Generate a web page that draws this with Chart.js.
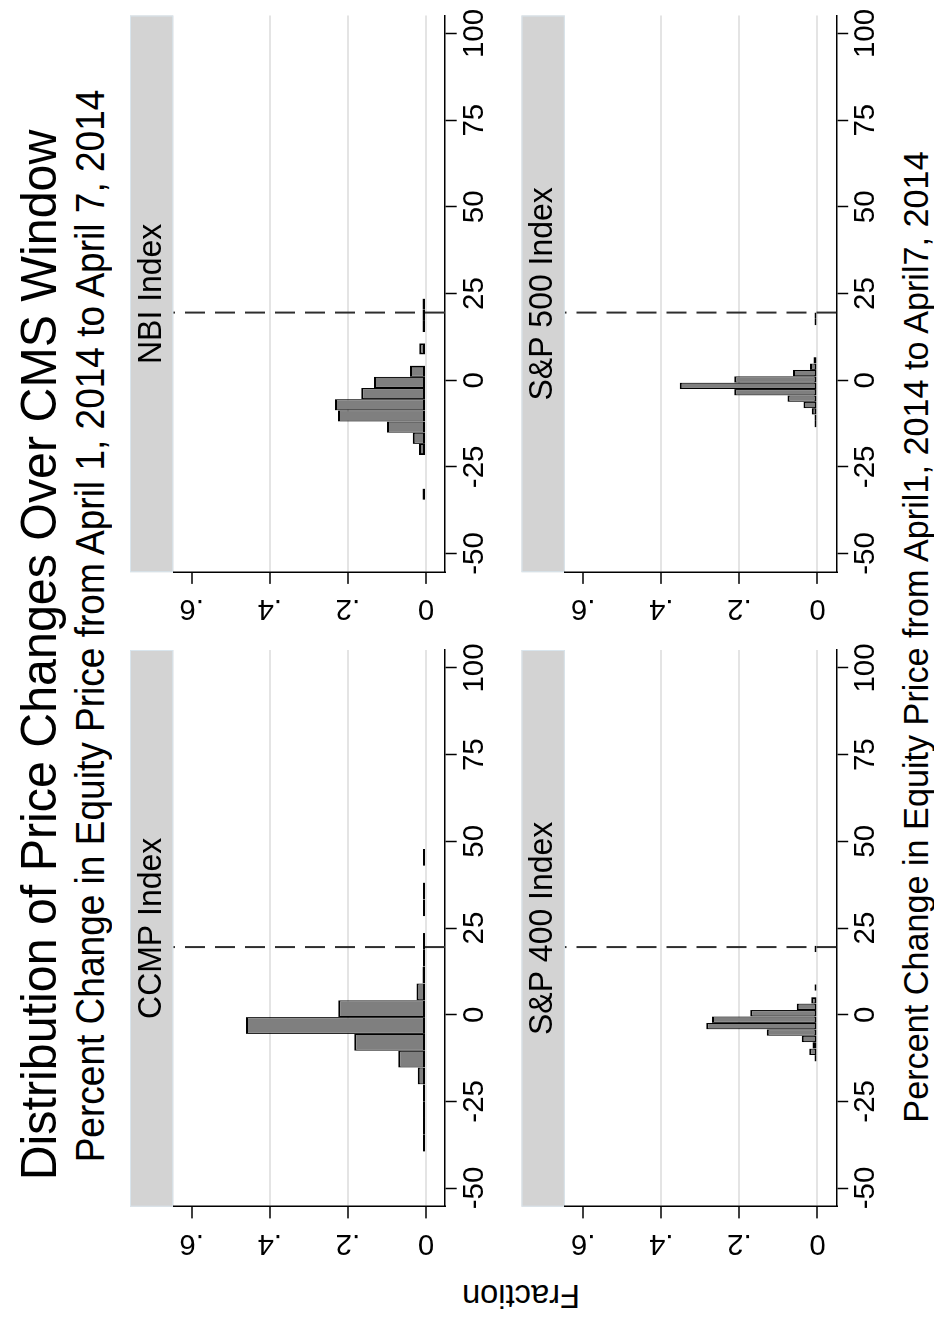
<!DOCTYPE html>
<html>
<head>
<meta charset="utf-8">
<script src="https://cdn.jsdelivr.net/npm/chart.js@4.4.1/dist/chart.umd.min.js"></script>
<style>
  html, body { margin: 0; padding: 0; background: #fff; overflow: hidden; }
  body { width: 934px; height: 1321px; position: relative; }
  /* the figure is laid out landscape and turned a quarter left, like the original */
  #sheet { position: absolute; left: 0; top: 0; width: 1321px; height: 934px;
           transform-origin: 0 0; transform: translate(0, 1321px) rotate(-90deg);
           font-family: "Liberation Sans", Arial, sans-serif; color: #000; }
  .txt { position: absolute; white-space: nowrap; line-height: 1; text-align: center; }
  canvas { position: absolute; }
</style>
</head>
<body>
<div id="sheet">
  <div class="txt" id="title">Distribution of Price Changes Over CMS Window</div>
  <div class="txt" id="subtitle">Percent Change in Equity Price from April 1, 2014 to April 7, 2014</div>
  <div class="txt" id="xtitle">Percent Change in Equity Price from April1, 2014 to April7, 2014</div>
  <div class="txt" id="ytitle">Fraction</div>
</div>
<script>
// data (fraction per bin)
const cutoff = 19.5;
const xTicks = [-50, -25, 0, 25, 50, 75, 100];
const yTicks = [0, 0.2, 0.4, 0.6];

const ccmpStart = -39.5, ccmpWidth = 4.85;
const ccmpFrac = [0.002, 0.002, 0.002, 0.007, 0.021, 0.071, 0.1835, 0.461, 0.2245,
                  0.024, 0.009, 0.004, 0.002, 0, 0.001, 0.001, 0, 0.001];

const nbiStart = -34.5, nbiWidth = 3.224;
const nbiFrac = [0.009, 0, 0, 0, 0.018, 0.034, 0.100, 0.225, 0.233,
                 0.166, 0.133, 0.041, 0, 0.017, 0, 0.009, 0.009, 0.009];

const sp400Start = -13.5, sp400Width = 1.855;
const sp400Frac = [0.006, 0.021, 0.013, 0.040, 0.130, 0.285, 0.270, 0.172, 0.053,
                   0.016, 0, 0.004, 0, 0, 0, 0, 0, 0.004];

const sp500Start = -13.6, sp500Width = 1.84;
const sp500Frac = [0.003, 0.005, 0.0145, 0.036, 0.077, 0.213, 0.353, 0.213, 0.063,
                   0.019, 0.010, 0, 0, 0, 0, 0, 0.003, 0.003];

const panels = [
  { label: 'CCMP Index',    start: ccmpStart,  width: ccmpWidth,  frac: ccmpFrac,  col: 0, row: 0 },
  { label: 'NBI Index',     start: nbiStart,   width: nbiWidth,   frac: nbiFrac,   col: 1, row: 0 },
  { label: 'S&P 400 Index', start: sp400Start, width: sp400Width, frac: sp400Frac, col: 0, row: 1 },
  { label: 'S&P 500 Index', start: sp500Start, width: sp500Width, frac: sp500Frac, col: 1, row: 1 }
];

// layout (landscape px)
const FONT = '"Liberation Sans", Arial, sans-serif';
const PLOT_W = 556.7, PLOT_H = 271.7, STRIP_H = 43.3;
const colLeft = [114.3, 748.8];
const rowTop = [130, 521.5];
const X_MIN = -55.39, X_MAX = 105.19;
const Y_MIN = -0.0487, Y_MAX = 0.6471;

function place(id, cx, top, size, sx) {
  const el = document.getElementById(id);
  el.style.fontSize = size + 'px';
  el.style.left = (cx - 700) + 'px';
  el.style.width = '1400px';
  el.style.top = top + 'px';
  el.style.transform = 'scaleX(' + sx + ')';
}
place('title', 666, 13.5, 50, 0.967);
place('subtitle', 694.5, 69.7, 40, 0.926);
place('xtitle', 684, 897.5, 35, 0.977);
const yt = document.getElementById('ytitle');
yt.style.fontSize = '34px';
yt.style.width = '300px';
yt.style.left = (23.5 - 150) + 'px';
yt.style.top = (521 - 17) + 'px';
yt.style.transform = 'rotate(-90deg) scaleX(0.96)';

const stripPlugin = {
  id: 'strip',
  beforeDraw(chart, args, opts) {
    const { ctx, chartArea: a } = chart;
    ctx.save();
    ctx.fillStyle = '#d3d3d3';
    ctx.fillRect(a.left, a.top - STRIP_H, a.right - a.left, STRIP_H);
    ctx.strokeStyle = '#d9e5ed';
    ctx.lineWidth = 1;
    ctx.strokeRect(a.left + 0.5, a.top - STRIP_H + 0.5, a.right - a.left - 1, STRIP_H - 1);
    ctx.fillStyle = '#000';
    ctx.font = '34px ' + FONT;
    ctx.textAlign = 'center';
    ctx.textBaseline = 'alphabetic';
    ctx.translate((a.left + a.right) / 2, a.top - STRIP_H + 30.6);
    ctx.scale(0.94, 1);
    ctx.fillText(opts.label, 0, 0);
    ctx.restore();
  }
};

const sheet = document.getElementById('sheet');

panels.forEach(p => {
  const plotL = colLeft[p.col], stripT = rowTop[p.row];
  const cx = Math.floor(plotL) - 100, cy = Math.floor(stripT);
  const yAxisW = plotL - cx;
  const padTop = stripT - cy + STRIP_H;
  const CW = 680, CH = 380;
  const padRight = CW - yAxisW - PLOT_W;
  const xAxisH = CH - padTop - PLOT_H;

  const canvas = document.createElement('canvas');
  canvas.width = CW; canvas.height = CH;
  canvas.style.left = cx + 'px'; canvas.style.top = cy + 'px';
  canvas.style.width = CW + 'px'; canvas.style.height = CH + 'px';
  sheet.appendChild(canvas);

  const bars = p.frac.map((f, i) => ({ x: p.start + p.width * (i + 0.5), y: f > 0 ? f : null }));
  const empty = i => !(p.frac[i] > 0);

  new Chart(canvas, {
    data: {
      datasets: [{
        type: 'line',
        data: [{ x: cutoff, y: Y_MIN }, { x: cutoff, y: Y_MAX }],
        borderColor: '#2e2e2e',
        borderWidth: 2,
        borderDash: [20, 10],
        pointRadius: 0,
        order: 0
      }, {
        type: 'bar',
        data: bars,
        backgroundColor: '#7f7f7f',
        borderColor: '#000',
        // shared edges get half width so neighbours add up to one outline
        borderWidth: c => ({
          top: 2, bottom: 2,
          left: empty(c.dataIndex - 1) ? 2 : 1.1,
          right: empty(c.dataIndex + 1) ? 2 : 1.1
        }),
        borderSkipped: false,
        barPercentage: 1,
        categoryPercentage: 1,
        inflateAmount: 0,
        minBarLength: 3,
        order: 1
      }]
    },
    options: {
      responsive: false,
      animation: false,
      devicePixelRatio: 1,
      layout: { padding: { top: padTop, right: padRight, left: 0, bottom: 0 } },
      plugins: {
        legend: { display: false },
        tooltip: { enabled: false },
        strip: { label: p.label }
      },
      scales: {
        x: {
          type: 'linear',
          min: X_MIN, max: X_MAX,
          offset: false,
          afterBuildTicks: s => { s.ticks = xTicks.map(v => ({ value: v })); },
          afterFit: s => { s.height = xAxisH; },
          grid: { offset: false, drawOnChartArea: false, tickLength: 11.7, tickColor: '#000', tickWidth: 1.5 },
          border: { display: true, color: '#000', width: 1.5 },
          ticks: {
            color: '#000', font: { family: FONT, size: 29.5 }, padding: 0,
            minRotation: 0, maxRotation: 0, autoSkip: false,
            callback: v => String(v)
          }
        },
        y: {
          type: 'linear',
          min: Y_MIN, max: Y_MAX,
          afterBuildTicks: s => { s.ticks = yTicks.map(v => ({ value: v })); },
          afterFit: s => { s.width = yAxisW; },
          grid: {
            color: c => (c.tick && c.tick.value === 0.6) ? 'rgba(0,0,0,0)' : '#e4e4e4',
            lineWidth: 2, tickLength: 11.7, tickColor: '#000', tickWidth: 1.5
          },
          border: { display: true, color: '#000', width: 1.5 },
          ticks: {
            color: '#000', font: { family: FONT, size: 29.5 }, padding: 12,
            minRotation: 90, maxRotation: 90, crossAlign: 'center', autoSkip: false,
            callback: v => v === 0 ? '0' : String(v).replace(/^0\./, '.')
          }
        }
      }
    },
    plugins: [stripPlugin]
  });
});
</script>
</body>
</html>
